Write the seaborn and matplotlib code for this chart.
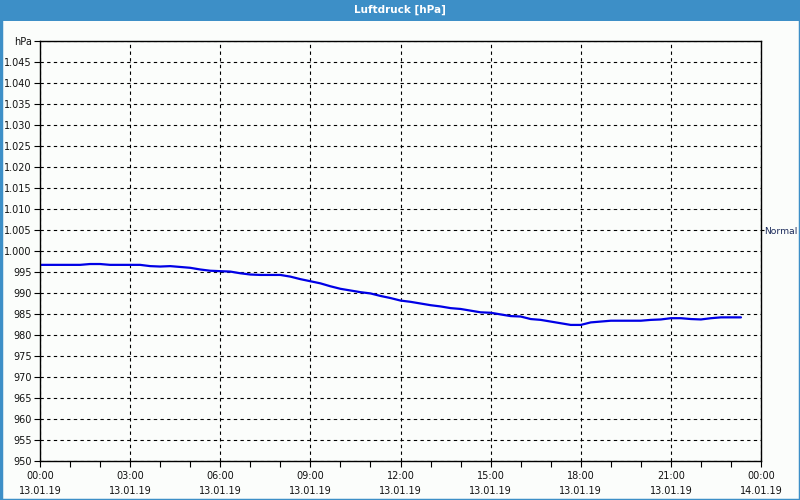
import matplotlib
matplotlib.use("Agg")
import matplotlib.pyplot as plt
import seaborn as sns
import pandas as pd
from matplotlib.patches import Rectangle

# ---- data ----
hours = [i / 3 for i in range(71)]  # every 20 minutes, 00:00 .. 23:20
pressure = [
    996.7, 996.7, 996.7, 996.7, 996.7, 996.9, 996.9, 996.7, 996.7, 996.7,
    996.7, 996.4, 996.3, 996.4, 996.2, 996.0, 995.6, 995.3, 995.2, 995.1,
    994.7, 994.4, 994.3, 994.3, 994.3, 993.9, 993.3, 992.8, 992.3, 991.6,
    991.0, 990.6, 990.2, 989.9, 989.3, 988.8, 988.2, 987.9, 987.5, 987.1,
    986.8, 986.4, 986.2, 985.8, 985.4, 985.3, 984.9, 984.5, 984.4, 983.8,
    983.6, 983.2, 982.8, 982.4, 982.4, 983.0, 983.2, 983.4, 983.4, 983.4,
    983.4, 983.6, 983.7, 984.0, 984.0, 983.8, 983.7, 984.0, 984.2, 984.2,
    984.2,
]
x_ticks = [0, 3, 6, 9, 12, 15, 18, 21, 24]
x_labels = ["00:00\n13.01.19", "03:00\n13.01.19", "06:00\n13.01.19",
            "09:00\n13.01.19", "12:00\n13.01.19", "15:00\n13.01.19",
            "18:00\n13.01.19", "21:00\n13.01.19", "00:00\n14.01.19"]
y_ticks = list(range(950, 1051, 5))
y_labels = [f"{v:,}".replace(",", ".") for v in y_ticks[:-1]] + ["hPa"]
title = "Luftdruck [hPa]"
right_label = "Normal"
right_value = 1005

df = pd.DataFrame({"hour": hours, "pressure": pressure})

sns.set_theme(style="white")
plt.rcParams["font.family"] = ["DejaVu Sans"]

bg = "#fbfdfb"
blue_bar = "#3d8fc7"
fs = 7

fig = plt.figure(figsize=(8, 5), dpi=100, facecolor=bg)
ax = fig.add_axes([40 / 800, 1 - 461 / 500, 721 / 800, 420 / 500])
ax.set_facecolor(bg)

sns.lineplot(data=df, x="hour", y="pressure", ax=ax, color="#0000e6",
             linewidth=1.6)

ax.set_xlim(0, 24)
ax.set_ylim(950, 1050)
ax.set_xticks(x_ticks)
ax.set_xticklabels(x_labels, fontsize=fs, linespacing=1.65)
ax.set_xticks(range(0, 25), minor=True)
ax.set_yticks(y_ticks)
ax.set_yticklabels(y_labels, fontsize=fs)
ax.set_xlabel("")
ax.set_ylabel("")

ax.tick_params(axis="both", which="both", direction="out", color="black",
               length=4, width=0.8, labelcolor="#111111")
ax.tick_params(axis="x", pad=3)
ax.tick_params(axis="y", pad=2)
ax.xaxis.set_ticks_position("bottom")
ax.yaxis.set_ticks_position("left")

for s in ax.spines.values():
    s.set_visible(True)
    s.set_color("black")
    s.set_linewidth(1.0)

ax.grid(True, which="major", color="black", linestyle=(0, (3, 3)), linewidth=0.8)
ax.set_axisbelow(True)

# right side "Normal" marker
ax2 = ax.twinx()
ax2.set_ylim(950, 1050)
ax2.set_yticks([right_value])
ax2.set_yticklabels([right_label], fontsize=6.6)
ax2.tick_params(axis="y", direction="out", length=2, width=0.8, pad=0.5,
                color="black", labelcolor="#1a2a5a")
for s in ax2.spines.values():
    s.set_visible(False)
ax2.grid(False)

# title bar
fig.patches.append(Rectangle((0, 1 - 21 / 500), 1, 21 / 500, transform=fig.transFigure,
                             facecolor=blue_bar, edgecolor="none", zorder=0))
fig.text(0.5, 1 - 10 / 500, title, ha="center", va="center", color="white",
         fontsize=7.5, fontweight="bold")
# frame border
fig.patches.append(Rectangle((0.5 / 800, 0.5 / 500), 799 / 800, 499 / 500,
                             transform=fig.transFigure, facecolor="none",
                             edgecolor=blue_bar, linewidth=2.5, zorder=5))

fig.savefig("out.png", dpi=100, facecolor=bg)
